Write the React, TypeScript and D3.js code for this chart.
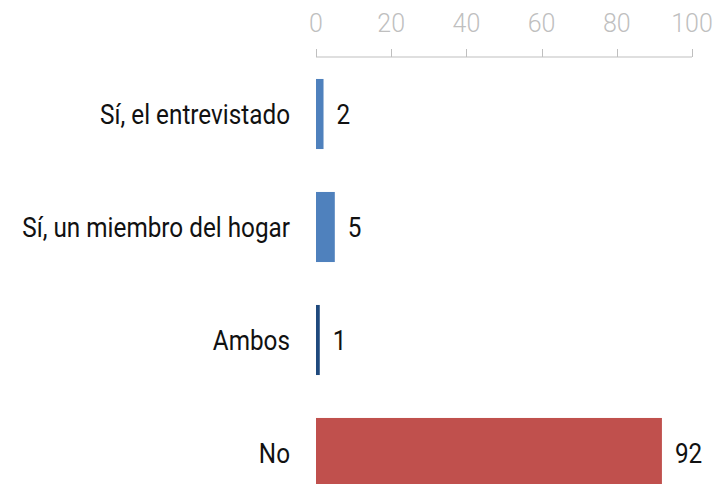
import * as d3 from "d3";
import { useEffect, useRef } from "react";

const categories = ["Sí, el entrevistado", "Sí, un miembro del hogar", "Ambos", "No"];
const values = [2, 5, 1, 92];
const colors = ["#4f81bd", "#4f81bd", "#1f497d", "#c0504d"];
const ticks = [0, 20, 40, 60, 80, 100];

const W = 715;
const H = 484;

// text is rendered in Roboto, squeezed horizontally to mimic a condensed face
const SQUEEZE = 0.9;

const App = () => {
  const svgRef = useRef<SVGSVGElement>(null);

  useEffect(() => {
    const svgEl = svgRef.current;
    if (!svgEl) return;
    const svg = d3.select(svgEl);
    svg.selectAll("*").remove();

    const x = d3.scaleLinear().domain([0, 100]).range([316, 692]);
    const y = d3
      .scaleBand<string>()
      .domain(categories)
      .range([79 - 21.5, 79 - 21.5 + 113 * 4])
      .paddingInner(0.38)
      .paddingOuter(0.19);

    // top axis
    const axis = svg.append("g").attr("transform", "translate(0,57)");
    axis
      .append("line")
      .attr("x1", x(0))
      .attr("x2", x(100))
      .attr("stroke", "#bfbfbf")
      .attr("stroke-width", 1);
    ticks.forEach((t) => {
      axis
        .append("line")
        .attr("x1", Math.round(x(t)) + 0.5)
        .attr("x2", Math.round(x(t)) + 0.5)
        .attr("y1", -8)
        .attr("y2", 0)
        .attr("stroke", "#bfbfbf");
      axis
        .append("text")
        .attr("x", x(t))
        .attr("y", -25)
        .attr("text-anchor", "middle")
        .attr("font-family", "Roboto")
        .attr("font-weight", 300)
        .attr("font-size", 25)
        .attr("fill", "#bfbfbf")
        .text(t);
    });

    const rows = svg
      .selectAll("g.row")
      .data(categories)
      .join("g")
      .attr("class", "row");

    rows
      .append("rect")
      .attr("x", x(0))
      .attr("y", (d) => y(d)!)
      .attr("width", (_, i) => x(values[i]) - x(0))
      .attr("height", y.bandwidth())
      .attr("fill", (_, i) => colors[i]);

    rows
      .append("text")
      .attr(
        "transform",
        (d) => `translate(290,${y(d)! + y.bandwidth() / 2}) scale(${SQUEEZE},1)`
      )
      .attr("dy", "0.36em")
      .attr("text-anchor", "end")
      .attr("font-family", "Roboto")
      .attr("font-size", 27)
      .attr("fill", "#111")
      .text((d) => d);

    rows
      .append("text")
      .attr(
        "transform",
        (d, i) =>
          `translate(${x(values[i]) + 13},${y(d)! + y.bandwidth() / 2}) scale(${SQUEEZE},1)`
      )
      .attr("dy", "0.36em")
      .attr("font-family", "Roboto")
      .attr("font-size", 27)
      .attr("fill", "#111")
      .text((_, i) => values[i]);
  }, []);

  return (
    <svg
      ref={svgRef}
      width={W}
      height={H}
      style={{ position: "absolute", left: 0, top: 0, background: "#fff" }}
    />
  );
};

export default App;
